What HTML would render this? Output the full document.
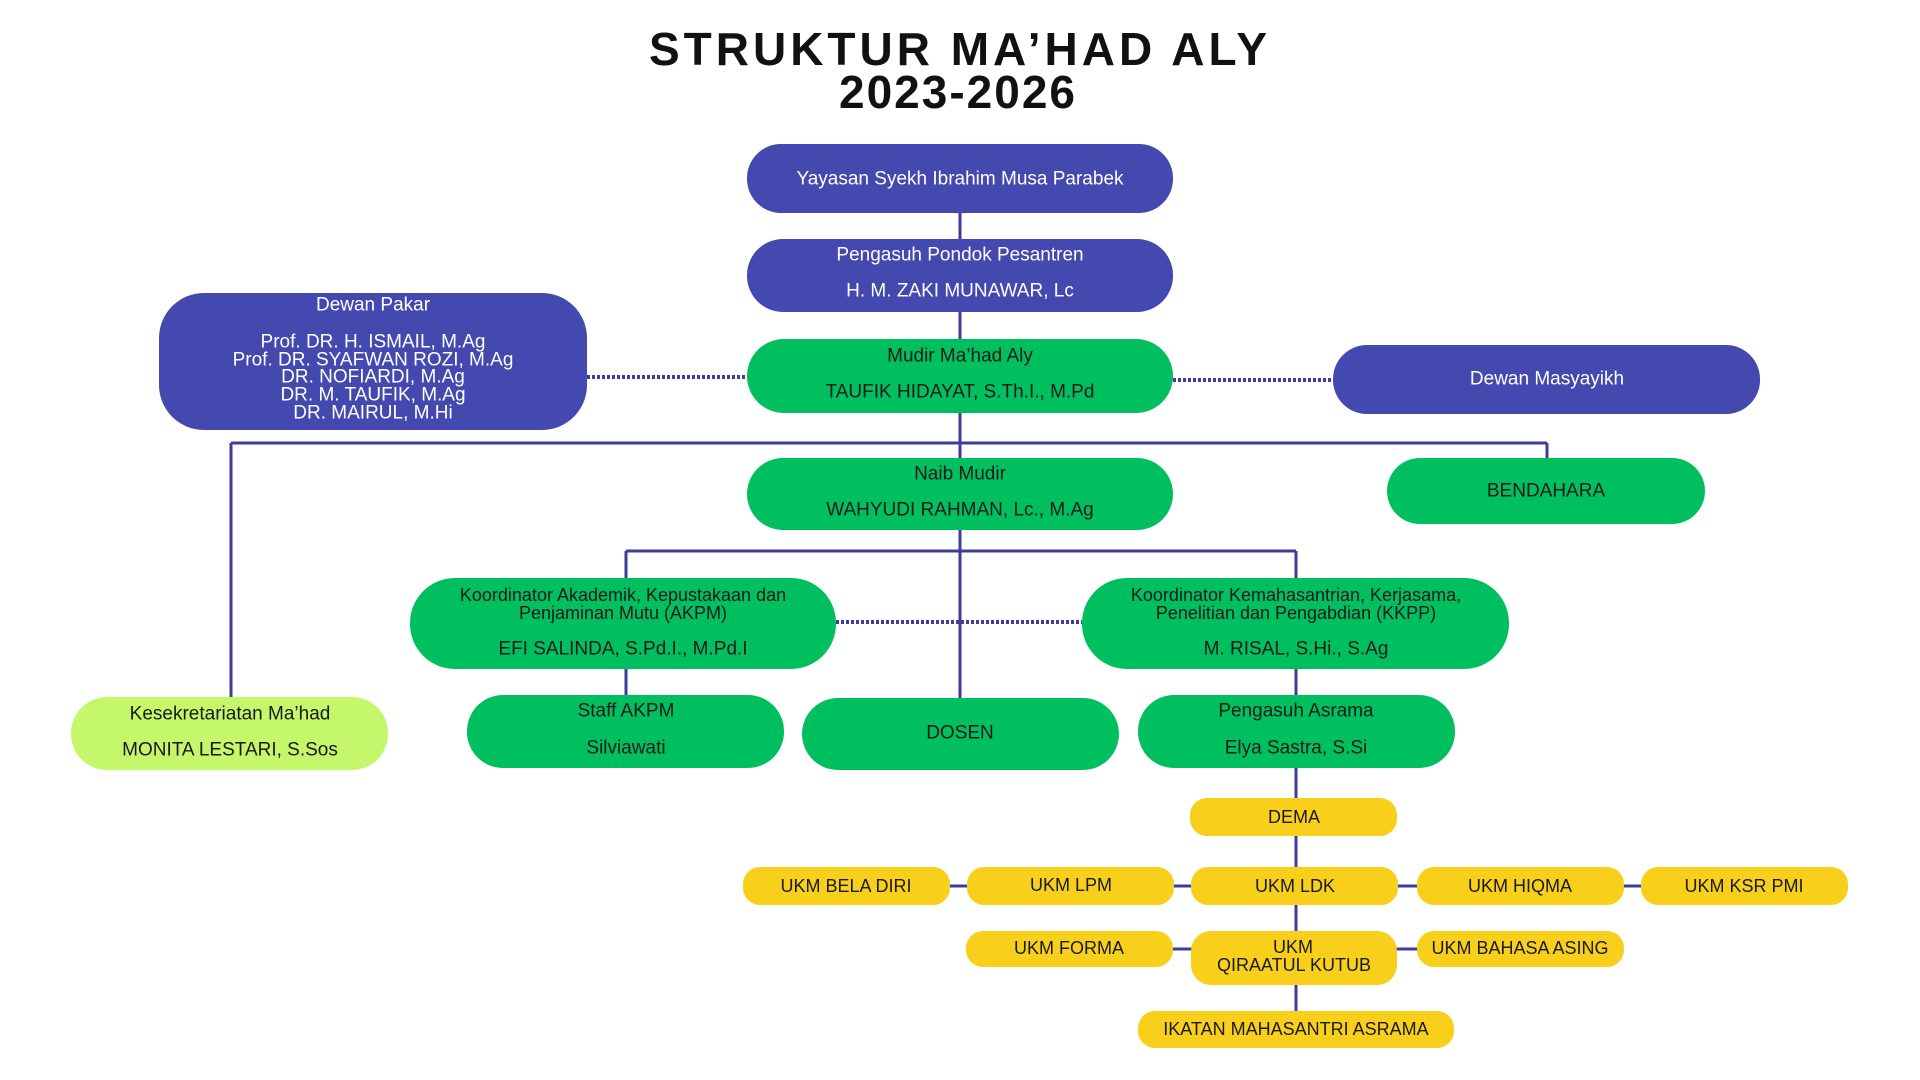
<!DOCTYPE html>
<html><head><meta charset="utf-8"><style>
html,body{margin:0;padding:0;background:#fff;width:1920px;height:1080px;overflow:hidden}
svg text{font-family:"Liberation Sans",sans-serif;text-anchor:middle;dominant-baseline:central}
.w{fill:#fff;font-size:19px}
.k{fill:#1a1a1a;font-size:19px}
.y{fill:#1a1a1a;font-size:18px}
</style></head><body>
<svg width="1920" height="1080" viewBox="0 0 1920 1080" xmlns="http://www.w3.org/2000/svg">
<g stroke="#3d3d9c" stroke-width="3" fill="none">
<line x1="960" y1="200" x2="960" y2="700"/>
<line x1="231" y1="443" x2="1547" y2="443"/>
<line x1="1547" y1="443" x2="1547" y2="460"/>
<line x1="231" y1="443" x2="231" y2="700"/>
<line x1="626" y1="551" x2="1296" y2="551"/>
<line x1="626" y1="551" x2="626" y2="700"/>
<line x1="1296" y1="551" x2="1296" y2="1015"/>
<line x1="940" y1="886" x2="1830" y2="886"/>
<line x1="1160" y1="949" x2="1430" y2="949"/>
</g>
<g stroke="#3d3d9c" stroke-width="4" stroke-dasharray="3,2" fill="none">
<line x1="587" y1="377" x2="747" y2="377"/>
<line x1="1173" y1="380" x2="1333" y2="380"/>
<line x1="836" y1="622" x2="1082" y2="622"/>
</g>
<g fill="#4349ae">
<rect x="747" y="144" width="426" height="69" rx="34"/>
<rect x="747" y="239" width="426" height="73" rx="36"/>
<rect x="159" y="293" width="428" height="137" rx="45"/>
<rect x="1333" y="345" width="427" height="69" rx="34"/>
</g>
<g fill="#00bf5f">
<rect x="747" y="339" width="426" height="74" rx="37"/>
<rect x="747" y="458" width="426" height="72" rx="36"/>
<rect x="1387" y="458" width="318" height="66" rx="33"/>
<rect x="410" y="578" width="426" height="91" rx="45"/>
<rect x="1082" y="578" width="427" height="91" rx="45"/>
<rect x="467" y="695" width="317" height="73" rx="36"/>
<rect x="802" y="698" width="317" height="72" rx="36"/>
<rect x="1138" y="695" width="317" height="73" rx="36"/>
</g>
<rect x="71" y="697" width="317" height="73" rx="36" fill="#c5f76a"/>
<g fill="#f8d01c">
<rect x="1190" y="798" width="207" height="38" rx="17"/>
<rect x="743" y="867" width="207" height="38" rx="17"/>
<rect x="967" y="867" width="207" height="38" rx="17"/>
<rect x="1191" y="867" width="207" height="38" rx="17"/>
<rect x="1417" y="867" width="207" height="38" rx="17"/>
<rect x="1641" y="867" width="207" height="38" rx="17"/>
<rect x="966" y="931" width="207" height="36" rx="17"/>
<rect x="1191" y="931" width="206" height="54" rx="20"/>
<rect x="1417" y="931" width="207" height="36" rx="17"/>
<rect x="1138" y="1011" width="316" height="37" rx="17"/>
</g>
<text x="960" y="49" style="font-size:46px;font-weight:bold;letter-spacing:4px;fill:#111">STRUKTUR MA’HAD ALY</text>
<text x="958" y="92" style="font-size:46px;font-weight:bold;letter-spacing:2px;fill:#111">2023-2026</text>
<text class="w" x="960" y="179">Yayasan Syekh Ibrahim Musa Parabek</text>
<text class="w" x="960" y="255">Pengasuh Pondok Pesantren</text>
<text class="w" x="960" y="291">H. M. ZAKI MUNAWAR, Lc</text>
<text class="w" x="373" y="305">Dewan Pakar</text>
<text class="w" x="373" y="342">Prof. DR. H. ISMAIL, M.Ag</text>
<text class="w" x="373" y="360">Prof. DR. SYAFWAN ROZI, M.Ag</text>
<text class="w" x="373" y="377">DR. NOFIARDI, M.Ag</text>
<text class="w" x="373" y="395">DR. M. TAUFIK, M.Ag</text>
<text class="w" x="373" y="413">DR. MAIRUL, M.Hi</text>
<text class="w" x="1547" y="379">Dewan Masyayikh</text>
<text class="k" x="960" y="356">Mudir Ma’had Aly</text>
<text class="k" x="960" y="392">TAUFIK HIDAYAT, S.Th.I., M.Pd</text>
<text class="k" x="960" y="474">Naib Mudir</text>
<text class="k" x="960" y="510">WAHYUDI RAHMAN, Lc., M.Ag</text>
<text class="k" x="1546" y="491">BENDAHARA</text>
<text class="k" x="623" y="595" style="font-size:18px">Koordinator Akademik, Kepustakaan dan</text>
<text class="k" x="623" y="613" style="font-size:18px">Penjaminan Mutu (AKPM)</text>
<text class="k" x="623" y="649">EFI SALINDA, S.Pd.I., M.Pd.I</text>
<text class="k" x="1296" y="595" style="font-size:18px">Koordinator Kemahasantrian, Kerjasama,</text>
<text class="k" x="1296" y="613" style="font-size:18px">Penelitian dan Pengabdian (KKPP)</text>
<text class="k" x="1296" y="649">M. RISAL, S.Hi., S.Ag</text>
<text class="k" x="230" y="714">Kesekretariatan Ma’had</text>
<text class="k" x="230" y="750">MONITA LESTARI, S.Sos</text>
<text class="k" x="626" y="711">Staff AKPM</text>
<text class="k" x="626" y="748">Silviawati</text>
<text class="k" x="960" y="733">DOSEN</text>
<text class="k" x="1296" y="711">Pengasuh Asrama</text>
<text class="k" x="1296" y="748">Elya Sastra, S.Si</text>
<text class="y" x="1294" y="817">DEMA</text>
<text class="y" x="846" y="886">UKM BELA DIRI</text>
<text class="y" x="1071" y="885">UKM LPM</text>
<text class="y" x="1295" y="886">UKM LDK</text>
<text class="y" x="1520" y="886">UKM HIQMA</text>
<text class="y" x="1744" y="886">UKM KSR PMI</text>
<text class="y" x="1069" y="948">UKM FORMA</text>
<text class="y" x="1293" y="947">UKM</text>
<text class="y" x="1294" y="965">QIRAATUL KUTUB</text>
<text class="y" x="1520" y="948">UKM BAHASA ASING</text>
<text class="y" x="1296" y="1029">IKATAN MAHASANTRI ASRAMA</text>
</svg>
</body></html>
